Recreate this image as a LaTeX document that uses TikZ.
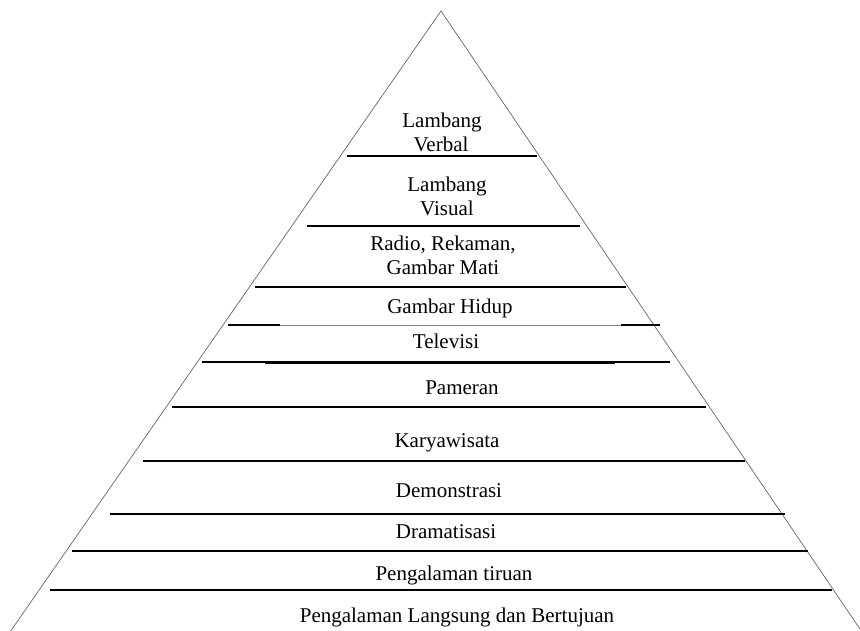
\documentclass[tikz,border=0pt]{standalone}
\usepackage{fontspec}
\setmainfont{Liberation Serif}
\begin{document}
\begin{tikzpicture}[x=1pt,y=-1pt,
  edge/.style={draw=black!60,line width=0.7pt},
  level/.style={draw=black,line width=1.6pt},
  thinlevel/.style={draw=black!50,line width=0.6pt},
  lbl/.style={font=\fontsize{21}{24}\selectfont,align=center,inner sep=0pt,anchor=base}]
\useasboundingbox (0,0) rectangle (860,630);
\coordinate (apex) at (441,11);
\coordinate (bl) at (10,632);
\coordinate (br) at (862,632);
\draw[edge] (bl) -- (apex) -- (br);
% levels
\draw[level] (347,156) -- (537,156);
\draw[level] (307,226) -- (580,226);
\draw[level] (255,287) -- (626,287);
\draw[level] (228,325) -- (280,325);
\draw[level] (621,325) -- (660,325);
\draw[thinlevel] (280,325) -- (621,325);
\draw[level] (202,362) -- (670,362);
\draw[level] (265,363) -- (615,363);
\draw[level] (172,407) -- (706,407);
\draw[level] (143,461) -- (745,461);
\draw[level] (110,514) -- (785,514);
\draw[level] (72,551) -- (808,551);
\draw[level] (50,590) -- (832,590);
% labels
\node[lbl] (t1) at (442,127) {Lambang};
\node[lbl] (t1b) at (441,151) {Verbal};
\node[lbl] (t2) at (447,191) {Lambang};
\node[lbl] (t2b) at (447,215) {Visual};
\node[lbl] (t3) at (443,250) {Radio, Rekaman,};
\node[lbl] (t3b) at (443,274) {Gambar Mati};
\node[lbl] (t4) at (450,313) {Gambar Hidup};
\node[lbl] (t5) at (446,348) {Televisi};
\node[lbl] (t6) at (462,394) {Pameran};
\node[lbl] (t7) at (447,447) {Karyawisata};
\node[lbl] (t8) at (449,497) {Demonstrasi};
\node[lbl] (t9) at (446,538) {Dramatisasi};
\node[lbl] (t10) at (454,580) {Pengalaman tiruan};
\node[lbl] (t11) at (457,622) {Pengalaman Langsung dan Bertujuan};
\end{tikzpicture}
\end{document}
